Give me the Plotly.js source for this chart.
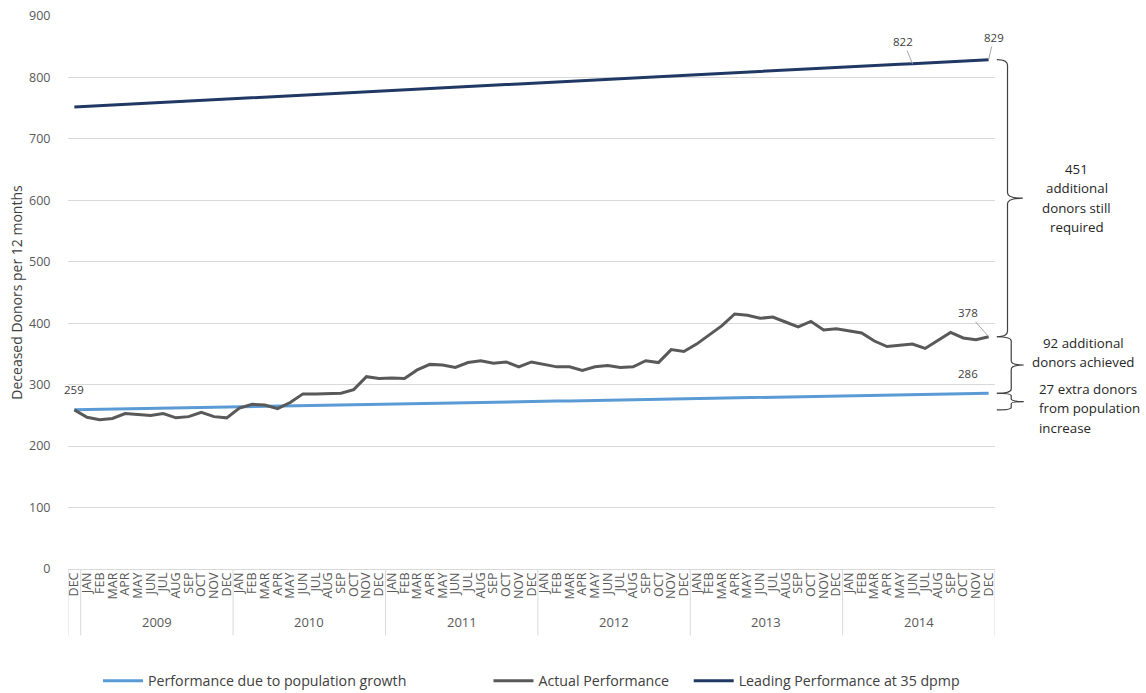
<!DOCTYPE html>
<html>
<head>
<meta charset="utf-8">
<script src="https://cdn.plot.ly/plotly-3.0.1.min.js"></script>
<style>html,body{margin:0;padding:0;background:#fff;}#chart{width:1146px;height:693px;}</style>
</head>
<body>
<div id="chart"></div>
<script>
// ---- data ----
const years = ['2009', '2010', '2011', '2012', '2013', '2014'];
const monthNames = ['JAN','FEB','MAR','APR','MAY','JUN','JUL','AUG','SEP','OCT','NOV','DEC'];
const startLabel = 'DEC';   // December 2008, first point
const startYear = '2008';

// Actual Performance (deceased donors per rolling 12 months)
const actual = [
  259,
  247, 243, 245, 253, 251, 250, 253, 246, 248, 255, 248, 246,
  262, 268, 267, 261, 271, 285, 285, 285, 286, 292, 313, 310,
  311, 310, 324, 333, 332, 328, 336, 339, 335, 337, 329, 337,
  333, 329, 329, 323, 329, 331, 328, 329, 339, 336, 357, 354,
  366, 381, 396, 415, 413, 408, 410, 402, 394, 403, 389, 391,
  388, 384, 371, 362, 364, 366, 359, 372, 385, 376, 373, 378
];

// Performance due to population growth
const population = [
  259.0,
  259.4, 259.8, 260.1, 260.5, 260.9, 261.3, 261.6, 262.0, 262.4, 262.8, 263.1, 263.5,
  263.9, 264.3, 264.6, 265.0, 265.4, 265.8, 266.1, 266.5, 266.9, 267.3, 267.6, 268.0,
  268.4, 268.8, 269.1, 269.5, 269.9, 270.3, 270.6, 271.0, 271.4, 271.8, 272.1, 272.5,
  272.9, 273.3, 273.6, 274.0, 274.4, 274.8, 275.1, 275.5, 275.9, 276.3, 276.6, 277.0,
  277.4, 277.8, 278.1, 278.5, 278.9, 279.3, 279.6, 280.0, 280.4, 280.8, 281.1, 281.5,
  281.9, 282.3, 282.6, 283.0, 283.4, 283.8, 284.1, 284.5, 284.9, 285.3, 285.6, 286.0
];

// Leading Performance at 35 dpmp
const leading = [
  752.0,
  753.1, 754.1, 755.2, 756.3, 757.3, 758.4, 759.5, 760.6, 761.6, 762.7, 763.8, 764.8,
  765.9, 767.0, 768.0, 769.1, 770.2, 771.3, 772.3, 773.4, 774.5, 775.5, 776.6, 777.7,
  778.7, 779.8, 780.9, 781.9, 783.0, 784.1, 785.2, 786.2, 787.3, 788.4, 789.4, 790.5,
  791.6, 792.6, 793.7, 794.8, 795.8, 796.9, 798.0, 799.1, 800.1, 801.2, 802.3, 803.3,
  804.4, 805.5, 806.5, 807.6, 808.7, 809.8, 810.8, 811.9, 813.0, 814.0, 815.1, 816.2,
  817.2, 818.3, 819.4, 820.4, 821.5, 822.4, 823.7, 824.7, 825.8, 826.9, 827.9, 829.0
];

const seriesNames = ['Performance due to population growth', 'Actual Performance', 'Leading Performance at 35 dpmp'];
const seriesColors = ['#5b9bd5', '#595959', '#203864'];

const braceLines = [
  ['451', 'additional', 'donors still', 'required'],
  ['92 additional', 'donors achieved'],
  ['27 extra donors', 'from population', 'increase']
];

// ---- derived category keys ----
const xKeys = [startYear + ' ' + startLabel].concat(years.flatMap(y => monthNames.map(m => y + ' ' + m)));
const xTickText = [startLabel].concat(years.flatMap(() => monthNames));
const last = xKeys.length - 1;

const traces = [
  {x: xKeys, y: population, name: seriesNames[0], type: 'scatter', mode: 'lines',
   line: {color: seriesColors[0], width: 3}, legend: 'legend', hoverinfo: 'skip'},
  {x: xKeys, y: actual, name: seriesNames[1], type: 'scatter', mode: 'lines',
   line: {color: seriesColors[1], width: 3}, legend: 'legend2', hoverinfo: 'skip'},
  {x: xKeys, y: leading, name: seriesNames[2], type: 'scatter', mode: 'lines',
   line: {color: seriesColors[2], width: 3}, legend: 'legend3', hoverinfo: 'skip'}
];

// group dividers below the axis (category index boundaries)
const shapes = [];
const boundaries = [-0.5, 0.5];
years.forEach((y, i) => boundaries.push(0.5 + 12 * (i + 1)));
boundaries.forEach(b => shapes.push({
  type: 'line', xref: 'x', yref: 'paper', x0: b, x1: b, y0: 0, y1: -0.12,
  line: {color: '#d9d9d9', width: 1}
}));

// curly braces on the right
function brace(xv, xt, yTop, yBot, r) {
  const mid = (yTop + yBot) / 2;
  const x0 = 1.002;
  return {
    type: 'path', xref: 'paper', yref: 'y',
    path: `M ${x0},${yTop} Q ${xv},${yTop} ${xv},${yTop - r} L ${xv},${mid + r} Q ${xv},${mid} ${xt},${mid} ` +
          `Q ${xv},${mid} ${xv},${mid - r} L ${xv},${yBot + r} Q ${xv},${yBot} ${x0},${yBot}`,
    line: {color: '#404040', width: 1.2}
  };
}
shapes.push(brace(1.0135, 1.030, leading[last], actual[last], 9));
shapes.push(brace(1.0175, 1.031, actual[last], population[last], 7));
shapes.push(brace(1.0175, 1.031, population[last], population[0], 4));

const labFont = {family: 'Open Sans, sans-serif', size: 11.5, color: '#404040'};
const annotations = [];
// year group labels
years.forEach((y, i) => annotations.push({
  x: 6.5 + 12 * i, xref: 'x', y: -0.096, yref: 'paper', text: y, showarrow: false,
  font: {family: 'Open Sans, sans-serif', size: 13, color: '#595959'}, yanchor: 'middle'
}));
// data labels
annotations.push({x: xKeys[0], y: population[0], text: '259', showarrow: false, yshift: 20, xshift: 0, font: labFont});
annotations.push({x: xKeys[last], y: population[last], text: '286', showarrow: false, yshift: 20, xshift: -21, font: labFont});
annotations.push({x: xKeys[last], y: actual[last], text: '378', showarrow: true, arrowhead: 0, arrowwidth: 1,
  arrowcolor: '#a6a6a6', ax: -21, ay: -24, font: labFont});
annotations.push({x: xKeys[66], y: leading[66], text: '822', showarrow: true, arrowhead: 0, arrowwidth: 1,
  arrowcolor: '#a6a6a6', ax: -9, ay: -22, font: labFont});
annotations.push({x: xKeys[last], y: leading[last], text: '829', showarrow: true, arrowhead: 0, arrowwidth: 1,
  arrowcolor: '#a6a6a6', ax: 5, ay: -22, font: labFont});
// brace texts, one annotation per line for Excel-like line spacing
const bFont = {family: 'Open Sans, sans-serif', size: 13.3, color: '#262626'};
const lineGap = 19.5;
function braceText(lines, x, yCenter, anchor) {
  lines.forEach((t, k) => annotations.push({
    x: x, xref: 'paper', y: yCenter, yref: 'y', text: t, showarrow: false, font: bFont,
    xanchor: anchor, yanchor: 'middle', align: anchor === 'left' ? 'left' : 'center',
    yshift: -(k - (lines.length - 1) / 2) * lineGap
  }));
}
braceText(braceLines[0], 1.088, (leading[last] + actual[last]) / 2, 'center');
braceText(braceLines[1], 1.095, 352, 'center');
braceText(braceLines[2], 1.045, 262, 'left');

const legFont = {family: 'Open Sans, sans-serif', size: 14.2, color: '#404040'};
const legBase = {orientation: 'h', y: -0.2025, yanchor: 'middle', xanchor: 'left', font: legFont,
  bgcolor: 'rgba(0,0,0,0)', borderwidth: 0, itemwidth: 40};

const layout = {
  width: 1146, height: 693,
  margin: {l: 68, r: 151, t: 16, b: 124, autoexpand: false},
  paper_bgcolor: '#ffffff', plot_bgcolor: '#ffffff',
  font: {family: 'Open Sans, sans-serif', color: '#595959'},
  showlegend: true,
  legend: Object.assign({}, legBase, {x: 0.0324}),
  legend2: Object.assign({}, legBase, {x: 0.4536}),
  legend3: Object.assign({}, legBase, {x: 0.6696}),
  xaxis: {
    type: 'category', tickmode: 'array', tickvals: xKeys, ticktext: xTickText,
    tickangle: -90, tickfont: {family: 'Open Sans, sans-serif', size: 12.5, color: '#595959'},
    showgrid: false, zeroline: false, showline: false, ticks: '', range: [-0.5, last + 0.5], fixedrange: true,
    automargin: false
  },
  yaxis: {
    range: [0, 900], dtick: 100, tick0: 0, showgrid: true, gridcolor: '#d9d9d9', gridwidth: 1,
    zeroline: true, zerolinecolor: '#d9d9d9', zerolinewidth: 1, showline: false,
    ticks: 'outside', ticklen: 14, tickcolor: 'rgba(0,0,0,0)',
    tickfont: {family: 'Open Sans, sans-serif', size: 12.5, color: '#595959'},
    title: {text: 'Deceased Donors per 12 months', standoff: 3,
      font: {family: 'Open Sans, sans-serif', size: 14, color: '#404040'}},
    fixedrange: true, automargin: false
  },
  shapes: shapes,
  annotations: annotations
};

Plotly.newPlot('chart', traces, layout, {displayModeBar: false, staticPlot: true});
</script>
</body>
</html>
